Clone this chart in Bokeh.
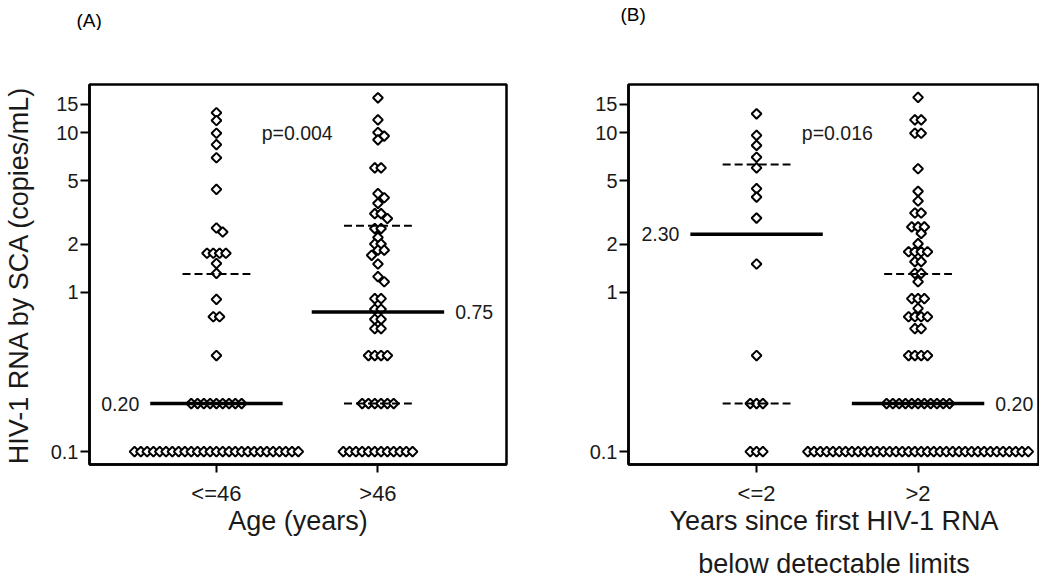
import math
import numpy as np
from bokeh.plotting import figure
from bokeh.layouts import row, column
from bokeh.models import Range1d, FixedTicker
from bokeh.core.properties import value
from bokeh.embed import file_html
from bokeh.resources import INLINE

FONT = "Liberation Sans"
TXT = "#1a1a1a"

# ---------------- data ----------------
y_tick_values = [0.1, 1, 2, 5, 10, 15]
y_tick_labels = ["0.1", "1", "2", "5", "10", "15"]
panel_tags = ["(A)", "(B)"]

# Panel A : Age
age_cats = ["<=46", ">46"]
age_le46_vals = [13.3, 11.9, 9.9, 8.4, 6.95, 4.4, 2.52, 2.38, 1.75, 1.51, 1.31, 0.9, 0.7, 0.4, 0.2, 0.1]
age_le46_cnts = [1, 1, 1, 1, 1, 1, 1, 1, 4, 1, 1, 1, 2, 1, 9, 27]
age_gt46_vals = [16.5, 12.0, 10.0, 9.5, 9.0, 6.0, 4.14, 3.9, 3.6, 3.1, 2.89, 2.5, 2.2, 2.0, 1.83, 1.7,
                 1.5, 1.25, 1.16, 0.91, 0.78, 0.675, 0.59, 0.4, 0.2, 0.1]
age_gt46_cnts = [1, 1, 1, 1, 1, 2, 1, 1, 1, 2, 1, 2, 1, 2, 2, 1,
                 1, 1, 1, 2, 2, 2, 2, 4, 6, 12]
age_median = [0.20, 0.75]
age_q1 = [float("nan"), 0.2]
age_q3 = [1.3, 2.6]
age_median_labels = ["0.20", "0.75"]
age_p = "p=0.004"

# Panel B : years since first HIV-1 RNA below detectable limits
yrs_cats = ["<=2", ">2"]
yrs_le2_vals = [13.1, 9.6, 8.3, 7.0, 6.0, 4.45, 3.94, 2.91, 1.5, 0.4, 0.2, 0.1]
yrs_le2_cnts = [1, 1, 1, 1, 1, 1, 1, 1, 1, 1, 3, 3]
yrs_gt2_vals = [16.6, 12.0, 9.9, 5.93, 4.28, 3.72, 3.13, 2.56, 2.33, 2.01, 1.79, 1.55, 1.31, 1.16,
                0.91, 0.79, 0.70, 0.59, 0.4, 0.2, 0.1]
yrs_gt2_cnts = [1, 2, 2, 1, 1, 1, 2, 3, 1, 1, 4, 2, 2, 1,
                3, 1, 4, 2, 4, 11, 36]
yrs_median = [2.30, 0.20]
yrs_q1 = [0.2, float("nan")]
yrs_q3 = [6.3, 1.3]
yrs_median_labels = ["2.30", "0.20"]
yrs_p = "p=0.016"

# ---------------- layout constants ----------------
Y0, Y1 = 0.083, 20.0
FRAME_H = 380
HEADER_H = 30
PPD = FRAME_H / (math.log10(Y1) - math.log10(Y0))  # pixels per decade
PPX = 161.5  # pixels per category unit
STEP = 6.3   # horizontal spacing of tied points (px)
DMIN = 6.8   # minimum distance between markers (px)


def swarm(vals, cnts, center):
    """Beeswarm layout: returns x (data units), y arrays."""
    placed = []
    xs, ys = [], []
    order = sorted(range(len(vals)), key=lambda i: -vals[i])
    for i in order:
        v, n = vals[i], cnts[i]
        yp = math.log10(v) * PPD
        base = [(j - (n - 1) / 2) * STEP for j in range(n)]
        c = 0.0
        for k in range(400):
            c = ((k + 1) // 2) * (STEP / 2) * (1 if k % 2 else -1)
            if all(math.hypot(b + c - px, yp - py) >= DMIN for b in base for (px, py) in placed):
                break
        for b in base:
            placed.append((b + c, yp))
            xs.append(center + (b + c) / PPX)
            ys.append(v)
    return xs, ys


def panel(cats, groups, med, q1, q3, med_labels, ptxt, xlabel, ylabel,
          xr, mbl, mbr, fw, show_ytitle):
    p = figure(y_axis_type="log", x_range=Range1d(*xr), y_range=Range1d(Y0, Y1),
               frame_width=fw, frame_height=FRAME_H,
               min_border_left=mbl, min_border_right=mbr, min_border_top=54,
               min_border_bottom=60,
               output_backend="svg", toolbar_location=None, background_fill_color="white",
               border_fill_color="white")
    p.grid.visible = False
    p.outline_line_color = "black"
    p.outline_line_width = 2.5

    xpos = [1, 2]
    # points
    for (vals, cnts), cx in zip(groups, xpos):
        xs, ys = swarm(vals, cnts, cx)
        p.scatter(xs, ys, marker="square", angle=math.pi / 4, size=6.9,
                  fill_color="white", line_color="black", line_width=2)

    # median lines (solid) and quartiles (dashed)
    mh, qh = 0.41, 0.21
    p.segment(x0=[x - mh for x in xpos], x1=[x + mh for x in xpos], y0=med, y1=med,
              line_color="black", line_width=3.5)
    qx = [x for x, q in zip(xpos, q1) if not math.isnan(q)] + xpos
    qy = [q for q in q1 if not math.isnan(q)] + q3
    p.segment(x0=[x - qh for x in qx], x1=[x + qh for x in qx], y0=qy, y1=qy,
              line_color="black", line_width=2, line_dash="8 4")

    # median labels: first category on the left, second on the right
    p.text(x=[xpos[0] - mh], y=[med[0]], text=[med_labels[0]], x_offset=-11,
           text_align="right", text_baseline="middle", text_font=value(FONT),
           text_font_size="19.5px", text_color=TXT)
    p.text(x=[xpos[1] + mh], y=[med[1]], text=[med_labels[1]], x_offset=11,
           text_align="left", text_baseline="middle", text_font=value(FONT),
           text_font_size="19.5px", text_color=TXT)
    # p-value
    p.text(x=[1.5], y=[9.9], text=[ptxt], text_align="center", text_baseline="middle",
           text_font=value(FONT), text_font_size="19.5px", text_color=TXT)

    # axes
    xa, ya = p.xaxis[0], p.yaxis[0]
    for ax in (xa, ya):
        ax.axis_line_color = "black"
        ax.axis_line_width = 2.5
        ax.major_tick_line_color = "black"
        ax.major_tick_line_width = 2
        ax.major_tick_in = 0
        ax.minor_tick_line_color = None
        ax.major_label_text_font = FONT
        ax.major_label_text_color = TXT
        ax.axis_label_text_font = FONT
        ax.axis_label_text_font_style = "normal"
        ax.axis_label_text_color = TXT
        ax.axis_label_text_font_size = "27px"
    ya.ticker = FixedTicker(ticks=y_tick_values, minor_ticks=[])
    ya.major_label_overrides = dict(zip(y_tick_values, y_tick_labels))
    ya.major_label_text_font_size = "20px"
    ya.major_tick_out = 9
    ya.major_label_standoff = 2
    if show_ytitle:
        ya.axis_label = ylabel
        ya.axis_label_standoff = 14
    xa.ticker = FixedTicker(ticks=xpos, minor_ticks=[])
    xa.major_label_overrides = dict(zip(xpos, cats))
    xa.major_label_text_font_size = "22px"
    xa.major_tick_out = 8
    xa.major_label_standoff = 8
    xa.axis_label = xlabel
    xa.axis_label_standoff = -3
    xa.axis_label_text_line_height = 1.45
    return p


# header strip holding the panel tags (A) / (B), in pixel-like coordinates
header = figure(width=1034, height=HEADER_H, x_range=Range1d(0, 1034), y_range=Range1d(0, HEADER_H),
                min_border=0, output_backend="svg", toolbar_location=None,
                background_fill_color="white", border_fill_color="white")
header.axis.visible = False
header.grid.visible = False
header.outline_line_color = None
header.text(x=[76, 620], y=[10, 16], text=panel_tags, text_align="left", text_baseline="middle",
            text_font=value(FONT), text_font_size="19px", text_color="black")

pa = panel(age_cats,
           [(age_le46_vals, age_le46_cnts), (age_gt46_vals, age_gt46_cnts)],
           age_median, age_q1, age_q3, age_median_labels, age_p,
           "Age (years)", "HIV-1 RNA by SCA (copies/mL)",
           (0.214, 2.796), 83, 52, 417, True)
pb = panel(yrs_cats,
           [(yrs_le2_vals, yrs_le2_cnts), (yrs_gt2_vals, yrs_gt2_cnts)],
           yrs_median, yrs_q1, yrs_q3, yrs_median_labels, yrs_p,
           "Years since first HIV-1 RNA\nbelow detectable limits", "",
           (0.207, 2.752), 70, 0, 411, False)

layout = column(header, row(pa, pb, spacing=0), spacing=0)
open("out.html", "w").write(file_html(layout, INLINE))
